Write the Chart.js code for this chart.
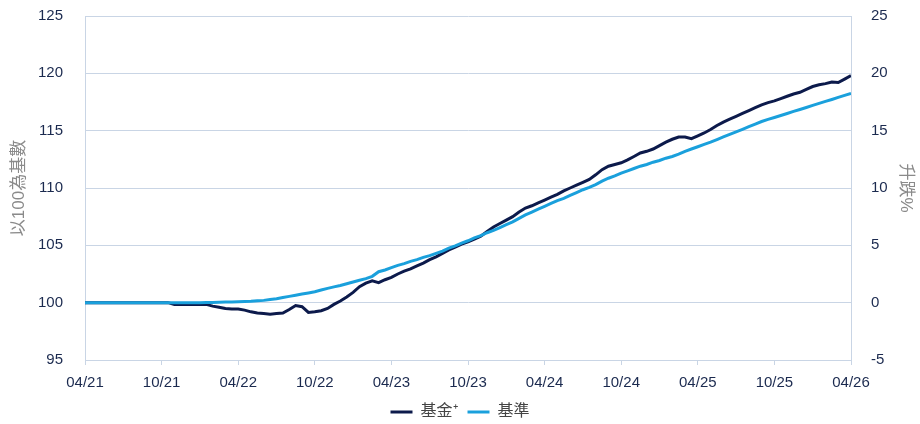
<!DOCTYPE html>
<html>
<head>
<meta charset="utf-8">
<script src="https://cdn.jsdelivr.net/npm/chart.js@4"></script>
<style>
  html,body{margin:0;padding:0;background:#fff}
  #wrap{width:920px;height:424px}
</style>
</head>
<body>
<div id="wrap"><canvas id="grafico"></canvas></div>
<script>
// x ticks, every 6 months from 04/21
const tickLabels = ['04/21','10/21','04/22','10/22','04/23','10/23','04/24','10/24','04/25','10/25','04/26'];

// fund, indexed to 100, one reading every half month
const fund = [
  100,100,100,100,100,100,100,100,100,100,100,100,100,100,
  99.85,99.85,99.85,99.85,99.85,99.85,
  99.7,99.6,99.5,99.45,99.45,99.35,99.2,99.1,99.05,99.0,
  99.05,99.1,99.4,99.75,99.65,99.15,99.2,99.3,99.5,99.85,
  100.15,100.5,100.9,101.4,101.7,101.9,101.75,102.0,102.2,102.5,
  102.75,102.95,103.2,103.45,103.75,104.0,104.3,104.6,104.85,105.1,
  105.3,105.55,105.8,106.2,106.6,106.9,107.2,107.5,107.9,108.25,
  108.45,108.7,108.95,109.2,109.45,109.75,110.0,110.25,110.5,110.75,
  111.15,111.6,111.9,112.05,112.2,112.45,112.75,113.05,113.2,113.4,
  113.7,114.0,114.25,114.45,114.45,114.3,114.55,114.8,115.1,115.45,
  115.75,116.0,116.25,116.5,116.75,117.0,117.25,117.45,117.6,117.8,
  118.0,118.2,118.35,118.6,118.85,119.0,119.1,119.25,119.2,119.5,
  119.8
];

// benchmark, same dates
const bench = [
  100,100,100,100,100,100,100,100,100,100,100,100,100,100,100,100,100,100,
  100.0,100.01,100.02,100.03,100.05,100.06,100.08,100.1,100.12,100.16,
  100.2,100.27,100.35,100.45,100.55,100.65,100.75,100.85,100.95,101.1,
  101.25,101.38,101.5,101.65,101.8,101.95,102.1,102.3,102.7,102.85,
  103.05,103.25,103.4,103.6,103.75,103.95,104.1,104.3,104.5,104.75,
  104.95,105.2,105.4,105.65,105.85,106.1,106.3,106.55,106.8,107.05,
  107.35,107.65,107.9,108.15,108.4,108.65,108.9,109.1,109.35,109.6,
  109.85,110.05,110.3,110.6,110.85,111.05,111.3,111.5,111.7,111.9,
  112.05,112.25,112.4,112.6,112.75,112.95,113.2,113.4,113.6,113.8,
  114.0,114.22,114.45,114.68,114.9,115.12,115.35,115.58,115.8,115.98,
  116.15,116.32,116.5,116.68,116.85,117.02,117.2,117.38,117.55,117.72,
  117.9,118.08,118.25
];

// months since 04/21
const months = fund.map((_, i) => i / 2);

const NAVY = '#0c1a4b';
const SKY = '#1aa0dc';
const GRID = '#c9d5e5';
const TXT = '#1b2a4f';
const FONT = '"Liberation Sans", Arial, "Noto Sans CJK TC", sans-serif';

const pts = arr => arr.map((v, i) => ({x: months[i], y: v}));

new Chart(grafico, {
  type: 'line',
  data: {
    datasets: [
      {label: '基金⁺', data: pts(fund), borderColor: NAVY, backgroundColor: NAVY,
       borderWidth: 3, pointRadius: 0, pointStyle: 'line', order: 1, yAxisID: 'y'},
      {label: '基準', data: pts(bench), borderColor: SKY, backgroundColor: SKY,
       borderWidth: 3, pointRadius: 0, pointStyle: 'line', order: 0, yAxisID: 'y'}
    ]
  },
  options: {
    responsive: true,
    maintainAspectRatio: false,
    animation: false,
    layout: {padding: {top: 16, bottom: -6}},
    plugins: {
      tooltip: {enabled: false},
      legend: {
        position: 'bottom',
        labels: {
          usePointStyle: true, pointStyle: 'line', pointStyleWidth: 22,
          boxHeight: 3, padding: 10, color: '#444',
          font: {family: FONT, size: 16},
          sort: (a, b) => a.datasetIndex - b.datasetIndex
        }
      }
    },
    scales: {
      x: {
        type: 'linear', min: 0, max: 60,
        grid: {display: true, drawOnChartArea: false, drawTicks: true, tickLength: 5, color: GRID},
        border: {display: true, color: GRID},
        ticks: {
          stepSize: 6, autoSkip: false, maxRotation: 0, padding: 9,
          color: TXT, font: {family: FONT, size: 15},
          callback: v => tickLabels[v / 6]
        },
        afterFit: s => { s.height = 34; }
      },
      y: {
        position: 'left', min: 95, max: 125,
        // invisible tick marks keep the labels clear of the axis
        grid: {color: GRID, drawTicks: true, tickLength: 19, tickColor: 'rgba(0,0,0,0)'},
        border: {display: true, color: GRID},
        ticks: {stepSize: 5, padding: 3, color: TXT, font: {family: FONT, size: 15}},
        title: {display: true, text: '以100為基數', color: '#8a8a8a', font: {family: FONT, size: 17}, padding: {top: 9, bottom: 4}},
        afterFit: s => { s.width = 85; }
      },
      y2: {
        position: 'right', min: -5, max: 25,
        grid: {display: true, drawOnChartArea: false, drawTicks: true, tickLength: 17, tickColor: 'rgba(0,0,0,0)'},
        border: {display: true, color: GRID},
        ticks: {stepSize: 5, padding: 3, color: TXT, font: {family: FONT, size: 15}},
        title: {display: true, text: '升跌%', color: '#8a8a8a', font: {family: FONT, size: 17}},
        afterFit: s => { s.width = 69; }
      }
    }
  }
});
</script>
</body>
</html>
